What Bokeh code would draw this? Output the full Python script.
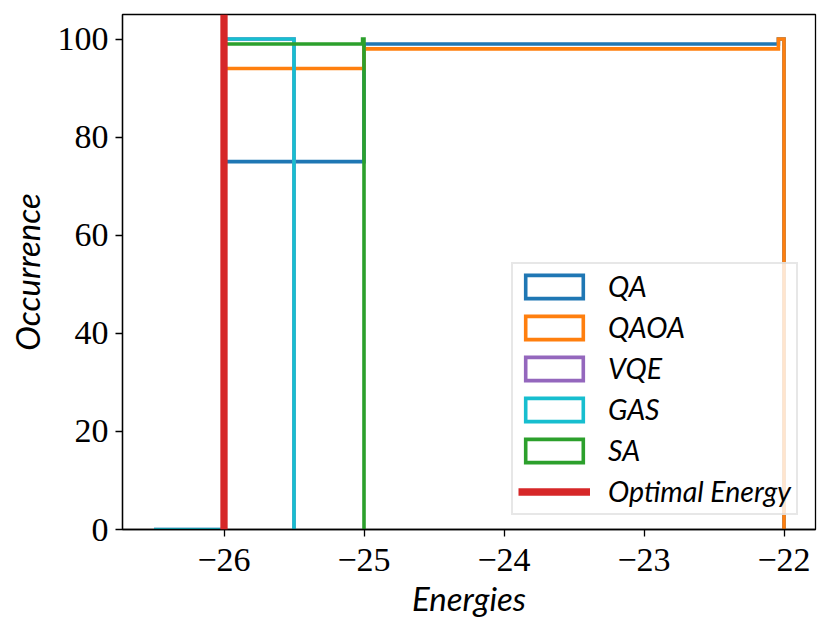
import numpy as np
from bokeh.plotting import figure
from bokeh.models import Range1d, FixedTicker, Span, Legend, LegendItem
from bokeh.embed import file_html
from bokeh.resources import INLINE

# ---- data ----
methods = ["QA", "QAOA", "VQE", "GAS", "SA"]
colors = ["#1f77b4", "#ff7f0e", "#9467bd", "#17becf", "#2ca02c"]
qa_energies = [-26, -25, -22]
qa_counts = [75, 24, 1]
qaoa_energies = [-26, -25, -22]
qaoa_counts = [94, 4, 2]
vqe_energies = [-26]
vqe_counts = [100]
gas_energies = [-26]
gas_counts = [100]
sa_energies = [-26, -25]
sa_counts = [99, 1]
optimal_energy = -26
optimal_label = "Optimal Energy"
n_bins = 100
x_ticks = [-26, -25, -24, -23, -22]
y_ticks = [0, 20, 40, 60, 80, 100]

energies = [qa_energies, qaoa_energies, vqe_energies, gas_energies, sa_energies]
counts = [qa_counts, qaoa_counts, vqe_counts, gas_counts, sa_counts]

p = figure(frame_width=693, frame_height=515, output_backend="svg", toolbar_location=None,
           x_range=Range1d(-26.725, -21.775), y_range=Range1d(0, 105),
           min_border_left=122, min_border_top=14, min_border_right=16, min_border_bottom=105)

p.xgrid.visible = False
p.ygrid.visible = False
p.outline_line_color = "black"
p.outline_line_width = 1.3
p.background_fill_color = "white"
p.border_fill_color = "white"

nan = float("nan")
items = []
for name, c, e, n in zip(methods, colors, energies, counts):
    data = np.repeat(np.array(e, dtype=float), n)
    hist, edges = np.histogram(data, bins=n_bins)
    cum = np.cumsum(hist)
    xs = np.repeat(edges, 2)
    ys = np.concatenate([[0], np.repeat(cum, 2), [0]])
    p.line(xs, ys, line_color=c, line_width=3.6, line_join="miter")
    dummy = p.quad(left=[nan], right=[nan], top=[nan], bottom=[nan], fill_color=None,
                   line_color=c, line_width=3.6, line_join="miter")
    items.append(LegendItem(label=name, renderers=[dummy]))

span = Span(location=optimal_energy, dimension="height", line_color="#d62728", line_width=7.3)
p.add_layout(span)
red_dummy = p.line(x=[nan, nan], y=[nan, nan], line_color="#d62728", line_width=7.3)
items.append(LegendItem(label=optimal_label, renderers=[red_dummy]))

legend = Legend(items=items, location=(389, 14), margin=0, padding=5,
                spacing=7, glyph_width=72, glyph_height=29, label_standoff=18,
                label_text_font="Lato", label_text_font_style="italic",
                label_text_font_size="28.5px", label_height=23, label_text_color="black",
                border_line_color="#d0d0d0", border_line_width=2,
                background_fill_color="white", background_fill_alpha=0.8)
p.add_layout(legend)

for ax in (p.xaxis, p.yaxis):
    ax.axis_line_width = 1.3
    ax.major_tick_line_width = 1.3
    ax.major_tick_out = 7
    ax.major_tick_in = 0
    ax.minor_tick_line_color = None
    ax.major_label_text_font = "Liberation Serif"
    ax.major_label_text_font_size = "34px"
    ax.major_label_text_color = "black"
    ax.axis_label_text_font = "Lato"
    ax.axis_label_text_font_style = "italic"
    ax.axis_label_text_font_size = "33px"
    ax.axis_label_text_color = "black"

p.xaxis.ticker = FixedTicker(ticks=x_ticks)
p.yaxis.ticker = FixedTicker(ticks=y_ticks)
p.xaxis.major_label_overrides = {t: "\u2212" + str(abs(t)) for t in x_ticks}
p.xaxis.axis_label = "Energies"
p.yaxis.axis_label = "Occurrence"
p.xaxis.major_label_standoff = 12
p.yaxis.major_label_standoff = 7
p.xaxis.axis_label_standoff = 4
p.yaxis.axis_label_standoff = 8

open("out.html", "w").write(file_html(p, INLINE))
